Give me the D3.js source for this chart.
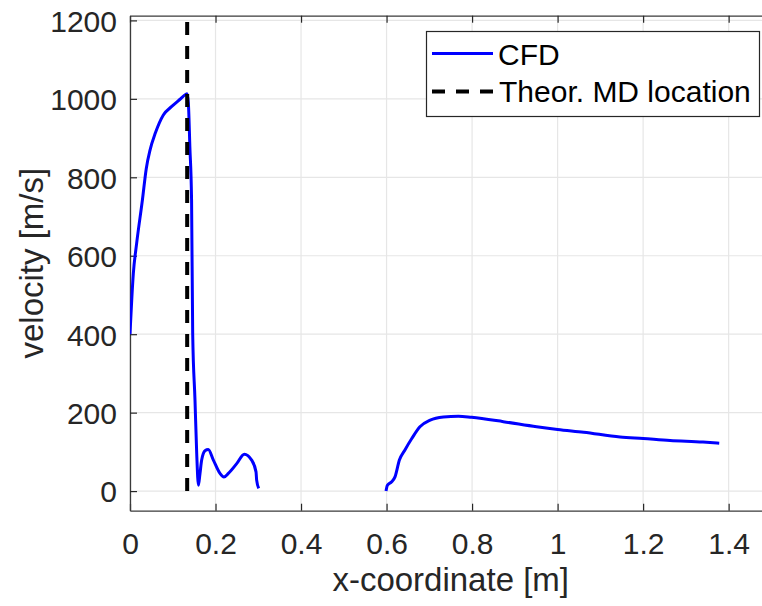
<!DOCTYPE html>
<html lang='en'>
    <head>
        <meta charset="utf-8">
        <title>velocity along x</title>
        <script src='https://d3js.org/d3.v7.min.js'></script>
        <style>
            body { margin: 0; background: #fff; }
            text { font-family: 'Liberation Sans', Arial, sans-serif; fill: #262626; }
        </style>
    </head>
    <body>
        <script type='text/javascript'>
            var w = 762;
            var h = 606;

            // CFD velocity, first part (nozzle)
            var cfdX1 = [0, 0.0078, 0.0156, 0.029, 0.038, 0.047, 0.059, 0.078, 0.097, 0.117, 0.130, 0.1335,
                         0.1365, 0.140, 0.144, 0.1466, 0.152, 0.156, 0.160, 0.1637, 0.1676, 0.1754,
                         0.183, 0.195, 0.2105, 0.2198, 0.230, 0.2495, 0.2674, 0.2845, 0.2947, 0.2962, 0.301];
            var cfdY1 = [400, 555, 632, 742, 822, 870, 912, 959, 980, 999, 1011, 1013,
                         989, 878, 742, 402, 232, 96, 15, 45, 79, 103,
                         106, 79, 45, 36, 45, 70, 94, 79, 49, 28, 7];

            // CFD velocity, second part
            var cfdX2 = [0.5987, 0.602, 0.612, 0.62, 0.63, 0.643, 0.659, 0.678, 0.702, 0.733, 0.768,
                         0.799, 0.873, 0.951, 1.0, 1.061, 1.146, 1.2, 1.263, 1.34, 1.378];
            var cfdY2 = [0, 15, 24, 37, 79, 105, 134, 164, 181, 189, 191,
                         188, 177, 164, 157, 150, 138, 134, 129, 125, 122];

            // theoretical Mach disk location
            var mdX = 0.1337;

            var xTicks = [0, 0.2, 0.4, 0.6, 0.8, 1, 1.2, 1.4];
            var yTicks = [0, 200, 400, 600, 800, 1000, 1200];

            // plot box (window.top is reserved, so m-prefixed names)
            var mLeft = 130, mRight = 771.4, mTop = 15.7, mBottom = 510.7;

            var xScale = d3.scaleLinear()
                .domain([0, 1.5])
                .range([mLeft, mRight]);

            var yScale = d3.scaleLinear()
                .domain([-50, 1212])
                .range([mBottom, mTop]);

            var svg = d3.select('body')
                        .append('svg')
                        .attr('width', w)
                        .attr('height', h);

            svg.append('clipPath').attr('id', 'plot')
                .append('rect')
                .attr('x', mLeft).attr('y', mTop)
                .attr('width', mRight - mLeft).attr('height', mBottom - mTop);

            // grid
            svg.append('g')
                .attr('stroke', '#e6e6e6')
                .attr('stroke-width', 1.2)
                .selectAll('line')
                .data(xTicks)
                .enter()
                .append('line')
                .attr('x1', function(d){ return xScale(d); })
                .attr('x2', function(d){ return xScale(d); })
                .attr('y1', mTop)
                .attr('y2', mBottom);

            svg.append('g')
                .attr('stroke', '#e6e6e6')
                .attr('stroke-width', 1.2)
                .selectAll('line')
                .data(yTicks)
                .enter()
                .append('line')
                .attr('x1', mLeft)
                .attr('x2', mRight)
                .attr('y1', function(d){ return yScale(d); })
                .attr('y2', function(d){ return yScale(d); });

            // axes (ticks inward, box on)
            var xAxis = d3.axisBottom(xScale).tickValues(xTicks).tickSizeInner(-7).tickSizeOuter(0)
                .tickFormat(function(d){ return String(d); });
            var xTop = d3.axisTop(xScale).tickValues(xTicks).tickSizeInner(-7).tickSizeOuter(0)
                .tickFormat('');
            var yAxis = d3.axisLeft(yScale).tickValues(yTicks).tickSizeInner(-7).tickSizeOuter(0)
                .tickFormat(function(d){ return String(d); });
            var yRight = d3.axisRight(yScale).tickValues(yTicks).tickSizeInner(-7).tickSizeOuter(0)
                .tickFormat('');

            var gx = svg.append('g').attr('transform', 'translate(0,' + mBottom + ')').call(xAxis);
            svg.append('g').attr('transform', 'translate(0,' + mTop + ')').call(xTop);
            var gy = svg.append('g').attr('transform', 'translate(' + mLeft + ',0)').call(yAxis);
            svg.append('g').attr('transform', 'translate(' + mRight + ',0)').call(yRight);

            svg.selectAll('.domain').attr('stroke', '#3a3a3a').attr('stroke-width', 1.3);
            svg.selectAll('.tick line').attr('stroke', '#262626').attr('stroke-width', 1.2);
            svg.selectAll('.tick text').attr('font-size', '30px').attr('fill', '#262626')
                .attr('font-family', "'Liberation Sans', Arial, sans-serif");
            gx.selectAll('.tick text').attr('y', 22).attr('dy', '0.71em');
            gy.selectAll('.tick text').attr('x', -13).attr('dy', '0.36em');

            // axis labels
            svg.append('text')
                .attr('x', (mLeft + mRight) / 2)
                .attr('y', 591)
                .attr('text-anchor', 'middle')
                .attr('font-size', '33px')
                .text('x-coordinate [m]');

            svg.append('text')
                .attr('transform', 'translate(43,' + (mTop + mBottom) / 2 + ') rotate(-90)')
                .attr('text-anchor', 'middle')
                .attr('font-size', '33px')
                .text('velocity [m/s]');

            // data
            var plot = svg.append('g').attr('clip-path', 'url(#plot)');

            var line = d3.line()
                .x(function(d){ return xScale(d[0]); })
                .y(function(d){ return yScale(d[1]); })
                .curve(d3.curveMonotoneX);

            var seg1 = d3.zip(cfdX1, cfdY1);
            var seg2 = d3.zip(cfdX2, cfdY2);

            plot.selectAll('path')
                .data([seg1, seg2])
                .enter()
                .append('path')
                .attr('d', line)
                .attr('fill', 'none')
                .attr('stroke', '#0000ff')
                .attr('stroke-width', 3)
                .attr('stroke-linejoin', 'round');

            plot.append('line')
                .attr('x1', xScale(mdX))
                .attr('x2', xScale(mdX))
                .attr('y1', yScale(0))
                .attr('y2', yScale(1212))
                .attr('stroke', '#000')
                .attr('stroke-width', 4)
                .attr('stroke-dasharray', '13,11');

            // legend
            var lg = svg.append('g');
            lg.append('rect')
                .attr('x', 426.5).attr('y', 31.5)
                .attr('width', 333).attr('height', 85)
                .attr('fill', '#fff')
                .attr('stroke', '#262626')
                .attr('stroke-width', 1.2);

            lg.append('line')
                .attr('x1', 432).attr('x2', 493)
                .attr('y1', 53.5).attr('y2', 53.5)
                .attr('stroke', '#0000ff').attr('stroke-width', 3);
            lg.append('text')
                .attr('x', 498).attr('y', 65)
                .attr('font-size', '30px')
                .style('fill', '#000')
                .text('CFD');

            lg.append('line')
                .attr('x1', 432).attr('x2', 493)
                .attr('y1', 91.5).attr('y2', 91.5)
                .attr('stroke', '#000').attr('stroke-width', 4)
                .attr('stroke-dasharray', '13,11');
            lg.append('text')
                .attr('x', 499).attr('y', 102)
                .attr('font-size', '30px')
                .style('fill', '#000')
                .text('Theor. MD location');
        </script>
    </body>
</html>
